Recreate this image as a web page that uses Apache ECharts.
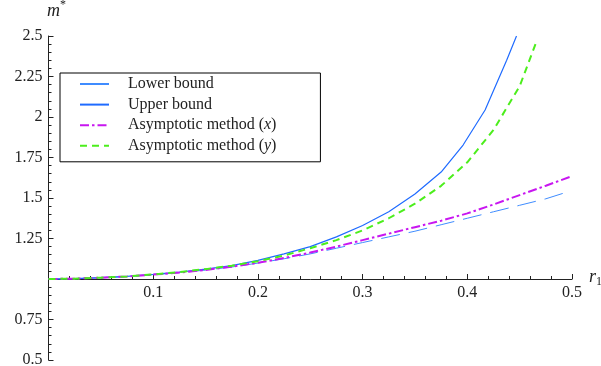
<!DOCTYPE html>
<html>
<head>
<meta charset="utf-8">
<script src="https://cdn.jsdelivr.net/npm/echarts@6/dist/echarts.min.js"></script>
<style>
  html, body { margin: 0; padding: 0; background: #fff; }
  #chart { width: 601px; height: 366px; }
</style>
</head>
<body>
<div id="chart"></div>
<script>
const font = 'Liberation Serif';
const lowerColor = '#3f8cff';
const upperColor = '#1f6bff';
const asymXColor = '#c816f0';
const asymYColor = '#4cee1c';

const lowerX = [0, 0.025, 0.05, 0.075, 0.1, 0.125, 0.15, 0.175, 0.2, 0.225, 0.25, 0.275, 0.3, 0.325, 0.35, 0.375, 0.4, 0.425, 0.45, 0.475, 0.492];
const lowerY = [1, 1.002, 1.007, 1.015, 1.026, 1.039, 1.055, 1.074, 1.098, 1.125, 1.155, 1.19, 1.225, 1.26, 1.295, 1.335, 1.375, 1.415, 1.455, 1.495, 1.53];

const upperX = [0, 0.025, 0.05, 0.075, 0.1, 0.125, 0.15, 0.175, 0.2, 0.225, 0.25, 0.275, 0.3, 0.325, 0.35, 0.375, 0.396, 0.417, 0.4376, 0.447];
const upperY = [1, 1.002, 1.008, 1.016, 1.028, 1.043, 1.061, 1.083, 1.115, 1.155, 1.2, 1.26, 1.33, 1.415, 1.525, 1.66, 1.827, 2.043, 2.35, 2.5];

const asymXX = [0, 0.025, 0.05, 0.075, 0.1, 0.125, 0.15, 0.175, 0.2, 0.225, 0.25, 0.275, 0.3, 0.325, 0.35, 0.375, 0.4, 0.425, 0.45, 0.475, 0.5];
const asymXY = [1, 1.002, 1.008, 1.016, 1.027, 1.04, 1.056, 1.076, 1.1, 1.13, 1.163, 1.2, 1.24, 1.28, 1.32, 1.36, 1.405, 1.46, 1.518, 1.576, 1.635];

const asymYX = [0, 0.025, 0.05, 0.075, 0.1, 0.125, 0.15, 0.175, 0.2, 0.225, 0.25, 0.275, 0.3, 0.325, 0.35, 0.375, 0.4, 0.425, 0.45, 0.466];
const asymYY = [1, 1.002, 1.008, 1.016, 1.028, 1.043, 1.061, 1.082, 1.11, 1.145, 1.19, 1.24, 1.3, 1.375, 1.465, 1.575, 1.72, 1.92, 2.19, 2.465];

const names = ['Lower bound', 'Upper bound', 'Asymptotic method (x)', 'Asymptotic method (y)'];

const pairs = (xs, ys) => xs.map((x, i) => [x, ys[i]]);

const yMin = 0.5, yMax = 2.5, xCross = 1;
const gridTop = 36, gridBottom = 6;
const gridHeight = 366 - gridTop - gridBottom;

const chart = echarts.init(document.getElementById('chart'));

const line = (name, data, color, width, type) => ({
  name,
  type: 'line',
  data,
  symbol: 'none',
  silent: true,
  animation: false,
  lineStyle: { color, width, type },
  itemStyle: { color },
});

const option = {
  backgroundColor: '#fff',
  animation: false,
  textStyle: { fontFamily: font },
  grid: {
    left: 48.5, right: 29, top: gridTop, bottom: gridBottom,
    containLabel: false, outerBoundsMode: 'none',
  },
  legend: {
    orient: 'vertical',
    left: 60,
    top: 73,
    padding: [3, 44, 8, 19],
    itemWidth: 29,
    itemHeight: 14,
    itemGap: 4.6,
    borderColor: '#000',
    borderWidth: 1,
    borderRadius: 0,
    backgroundColor: '#fff',
    itemStyle: { opacity: 0 },
    data: [
      { name: names[0], lineStyle: { type: 'solid' } },
      { name: names[1] },
      { name: names[2] },
      { name: names[3] },
    ],
    formatter: (n) => {
      if (n === names[2]) return '{a|Asymptotic method (}{i|x}{a|)}';
      if (n === names[3]) return '{a|Asymptotic method (}{i|y}{a|)}';
      return '{a|' + n + '}';
    },
    textStyle: {
      fontFamily: font,
      fontSize: 16,
      color: '#222',
      padding: [0, 0, 0, 14],
      rich: {
        a: { fontFamily: font, fontSize: 16, color: '#222' },
        i: { fontFamily: font, fontSize: 16, fontStyle: 'italic', color: '#222' },
      },
    },
  },
  xAxis: {
    type: 'value',
    min: 0,
    max: 0.5,
    interval: 0.1,
    offset: -gridHeight * (xCross - yMin) / (yMax - yMin),
    name: '{r|r}{s|1}',
    nameLocation: 'end',
    nameGap: 17,
    nameTextStyle: {
      padding: [0, 0, 4, 0],
      rich: {
        r: { fontFamily: font, fontSize: 18, fontStyle: 'italic', color: '#222' },
        s: { fontFamily: font, fontSize: 12, color: '#222', padding: [10, 0, 0, 0] },
      },
    },
    axisLine: { show: true, lineStyle: { color: '#222', width: 1 } },
    axisTick: { show: true, inside: true, length: 5, lineStyle: { color: '#222' } },
    minorTick: { show: true, splitNumber: 5, length: 3, lineStyle: { color: '#222' } },
    splitLine: { show: false },
    axisLabel: {
      fontFamily: font,
      fontSize: 16,
      color: '#222',
      margin: 6,
      formatter: (v) => (v === 0 ? '' : String(v)),
    },
  },
  yAxis: {
    type: 'value',
    min: yMin,
    max: yMax,
    interval: 0.25,
    name: '{m|m}{s|*}',
    nameLocation: 'end',
    nameGap: 13,
    nameTextStyle: {
      align: 'center',
      padding: [0, 0, 0, 16],
      rich: {
        m: { fontFamily: font, fontSize: 18, fontStyle: 'italic', color: '#222' },
        s: { fontFamily: font, fontSize: 12, color: '#222', padding: [0, 0, 12, 0] },
      },
    },
    axisLine: { show: true, lineStyle: { color: '#222', width: 1 } },
    axisTick: { show: true, inside: true, length: 5, lineStyle: { color: '#222' } },
    minorTick: { show: true, splitNumber: 5, length: 3, lineStyle: { color: '#222' } },
    splitLine: { show: false },
    axisLabel: {
      fontFamily: font,
      fontSize: 16,
      color: '#222',
      margin: 6,
      formatter: (v) => (v === 1 ? '' : String(v)),
    },
  },
  series: [
    line(names[0], pairs(lowerX, lowerY), lowerColor, 1, [19, 9]),
    line(names[1], pairs(upperX, upperY), upperColor, 1.2, 'solid'),
    line(names[2], pairs(asymXX, asymXY), asymXColor, 2, [9, 3, 2.5, 3]),
    line(names[3], pairs(asymYX, asymYY), asymYColor, 2, [7, 5]),
  ],
};

chart.setOption(option);
</script>
</body>
</html>
